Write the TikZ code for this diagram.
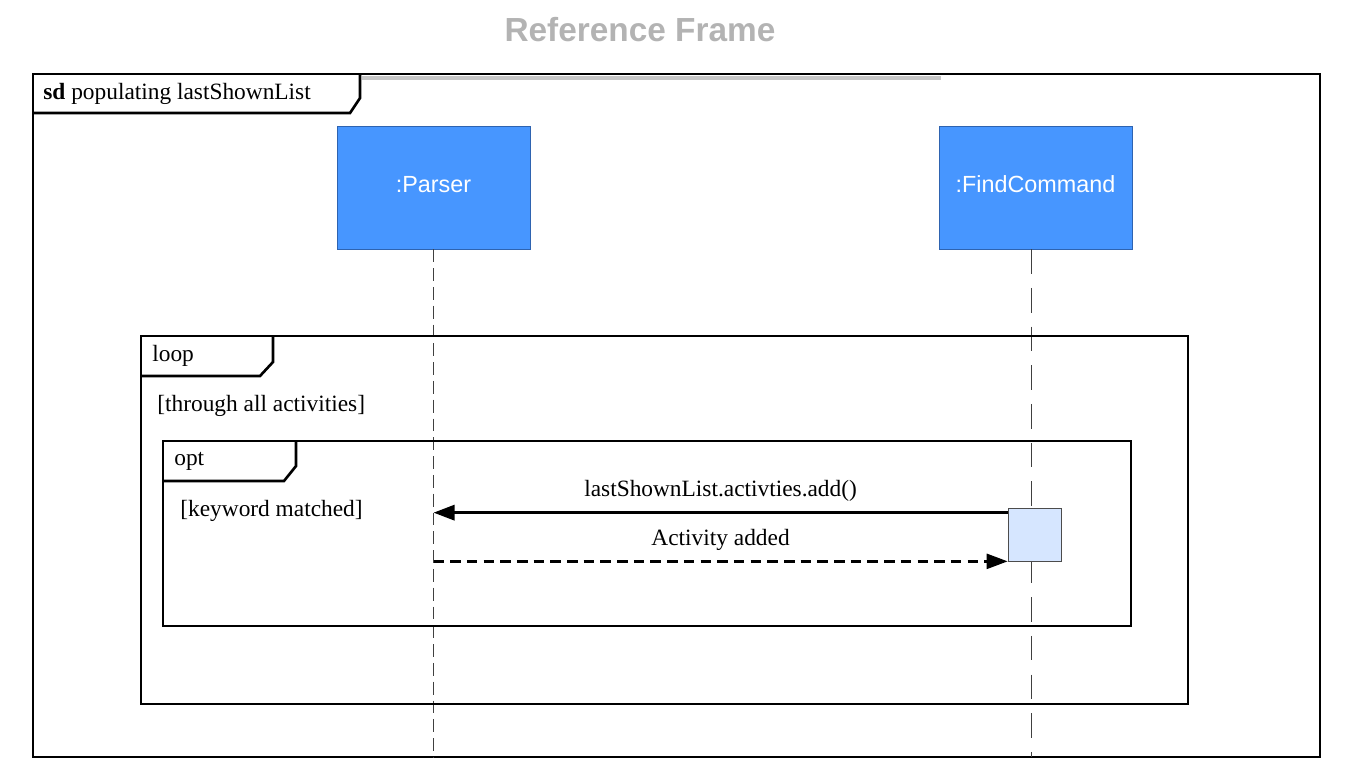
\documentclass[tikz,border=0pt]{standalone}
\usepackage{fontspec}
\setmainfont{Liberation Serif}
\setsansfont{Liberation Sans}
\usetikzlibrary{arrows.meta,positioning}

\definecolor{actorblue}{HTML}{4796FF}
\definecolor{actorline}{HTML}{2E63B0}
\definecolor{actfill}{HTML}{D6E6FF}
\definecolor{titlegray}{HTML}{B3B3B3}

\begin{document}
\begin{tikzpicture}[x=0.02cm,y=-0.02cm,
  actor/.style={draw=actorline,fill=actorblue,text=white,font=\sffamily\fontsize{13.3}{16}\selectfont,
    minimum width=3.86cm,minimum height=2.46cm,inner sep=0pt,text depth=0pt,text height=1.2ex},
  lifeline/.style={draw=black!75,line width=0.55pt},
  activation/.style={draw=black!70,fill=actfill,minimum width=1.06cm,minimum height=1.06cm,inner sep=0pt},
  framebox/.style={line width=1.5pt},
  lbl/.style={font=\fontsize{13.3}{16}\selectfont,inner sep=0pt},
  msg/.style={line width=1.8pt,-{Triangle[length=0.42cm,width=0.3cm]}},
  reply/.style={msg,line width=1.4pt,dash pattern=on 6pt off 3.5pt}]
\useasboundingbox (0,0) rectangle (1354,781);

% Title
\node[font=\sffamily\bfseries\fontsize{19}{22}\selectfont,text=titlegray] (title) at (640,30) {Reference Frame};

% Outer sd frame
\coordinate (frameNW) at (33,74);
\coordinate (frameSE) at (1320,757);
\draw[gray!45,line width=1.8pt] (362,78) -- (941,78);
\draw[framebox] (frameNW) rectangle (frameSE);
\draw[framebox] (360,74) -- (360,98) -- (350,113) -- (33,113);
\node[lbl,anchor=west] (sdlabel) at (43,93.5) {\textbf{sd} populating lastShownList};

% Lifeline heads
\node[actor] (parser) at (433.5,187.5) {:Parser};
\node[actor] (find) at (1035.5,187.5) {:FindCommand};

% Lifelines
\draw[lifeline,dash pattern=on 7.3pt off 3.4pt] (parser.south) -- (parser.south |- frameSE);
\draw[lifeline,dash pattern=on 14pt off 8pt] ([xshift=-0.09cm]find.south) -- ([xshift=-0.09cm]find.south |- frameSE);

% loop fragment
\draw[framebox] (141,336) rectangle (1188,704);
\draw[framebox] (273,336) -- (273,362) -- (260,376) -- (141,376);
\node[lbl,anchor=west] (looplabel) at (152,356) {loop};
\node[lbl,anchor=west] (loopguard) at (157,406) {[through all activities]};

% opt fragment
\draw[framebox] (163,441) rectangle (1131,626);
\draw[framebox] (296,441) -- (296,466) -- (284,481) -- (163,481);
\node[lbl,anchor=west] (optlabel) at (174,461) {opt};
\node[lbl,anchor=west] (optguard) at (180,511) {[keyword matched]};

% Activation on FindCommand
\node[activation] (act) at (1034.5,534.5) {};

% Messages
\draw[msg] ([yshift=-0.1cm]act.north west) -- ([yshift=-0.1cm]act.north west -| parser.south)
  node[lbl,midway,above=0.2cm] {lastShownList.activties.add()};
\draw[reply] (act.south west -| parser.south) -- (act.south west)
  node[lbl,midway,above=0.2cm] {Activity added};

\end{tikzpicture}
\end{document}
